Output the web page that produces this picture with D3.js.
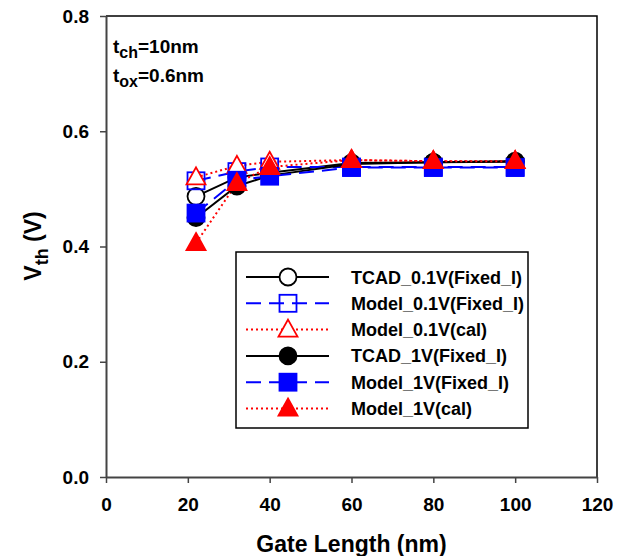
<!DOCTYPE html>
<html>
<head>
<meta charset="utf-8">
<script src="https://cdn.jsdelivr.net/npm/d3@7"></script>
<style>
  body { margin: 0; background: #fff; }
  svg { display: block; font-family: "Liberation Sans", Arial, sans-serif; }
</style>
</head>
<body>
<div id="chart"></div>
<script>
const MARGIN = { top: 16, right: 29, bottom: 79, left: 106 };

// gate length (nm)
const gateLength = [22, 32, 40, 60, 80, 100];

// threshold voltage (V) per series
const tcad01 = [0.487, 0.520, 0.528, 0.545, 0.546, 0.547];
const model01 = [0.514, 0.530, 0.538, 0.538, 0.538, 0.538];
const model01Cal = [0.520, 0.540, 0.547, 0.550, 0.548, 0.548];
const tcad1 = [0.450, 0.505, 0.523, 0.543, 0.546, 0.548];
const model1 = [0.458, 0.515, 0.522, 0.537, 0.537, 0.537];
const model1Cal = [0.406, 0.510, 0.538, 0.550, 0.548, 0.548];

const xTicks = [0, 20, 40, 60, 80, 100, 120];
const yTicks = [0, 0.2, 0.4, 0.6, 0.8];

const series = [
  { name: "TCAD_0.1V(Fixed_I)", values: tcad01, color: "#000", dash: null, shape: "circle", filled: false },
  { name: "Model_0.1V(Fixed_I)", values: model01, color: "#0000ff", dash: "15,8", shape: "square", filled: false },
  { name: "Model_0.1V(cal)", values: model01Cal, color: "#ff0000", dash: "2,3", shape: "triangle", filled: false },
  { name: "TCAD_1V(Fixed_I)", values: tcad1, color: "#000", dash: null, shape: "circle", filled: true },
  { name: "Model_1V(Fixed_I)", values: model1, color: "#0000ff", dash: "15,8", shape: "square", filled: true },
  { name: "Model_1V(cal)", values: model1Cal, color: "#ff0000", dash: "2,3", shape: "triangle", filled: true }
];

const width = 626;
const height = 556;

const svg = d3.select("#chart").append("svg")
  .attr("width", width)
  .attr("height", height);

const x = d3.scaleLinear().domain([0, 120]).range([MARGIN.left, width - MARGIN.right]);
const y = d3.scaleLinear().domain([0, 0.8]).range([height - MARGIN.bottom, MARGIN.top]);

// frame (top and right)
svg.append("path")
  .attr("d", `M${x(0)},${y(0.8)}H${x(120)}V${y(0)}`)
  .attr("fill", "none")
  .attr("stroke", "#000")
  .attr("stroke-width", 1.5);

const xAxis = svg.append("g")
  .attr("transform", `translate(0,${y(0)})`)
  .call(d3.axisBottom(x).tickValues(xTicks).tickSize(6).tickPadding(15).tickSizeOuter(0));

const yAxis = svg.append("g")
  .attr("transform", `translate(${x(0)},0)`)
  .call(d3.axisLeft(y).tickValues(yTicks).tickFormat(d3.format(".1f")).tickSize(6).tickPadding(11).tickSizeOuter(0));

[xAxis, yAxis].forEach(ax => {
  ax.select(".domain").attr("stroke", "#444").attr("stroke-width", 2);
  ax.selectAll(".tick line").attr("stroke", "#444").attr("stroke-width", 1.5);
  ax.selectAll(".tick text")
    .attr("fill", "#000")
    .style("font-size", "19px")
    .style("font-weight", "bold");
});

// axis titles
svg.append("text")
  .attr("x", (x(0) + x(120)) / 2)
  .attr("y", 552)
  .attr("text-anchor", "middle")
  .style("font-size", "23px")
  .style("font-weight", "bold")
  .text("Gate Length (nm)");

const yTitle = svg.append("text")
  .attr("transform", "translate(41,246) rotate(-90)")
  .attr("text-anchor", "middle")
  .style("font-size", "23px")
  .style("font-weight", "bold");
yTitle.append("tspan").text("V");
yTitle.append("tspan").attr("dy", 7).style("font-size", "18px").text("th");
yTitle.append("tspan").attr("dy", -7).text(" (V)");

// annotation
[["ch", "=10nm", 53], ["ox", "=0.6nm", 82]].forEach(([sub, rest, by]) => {
  const t = svg.append("text")
    .attr("x", 113)
    .attr("y", by)
    .style("font-size", "19px")
    .style("font-weight", "bold");
  t.append("tspan").text("t");
  t.append("tspan").attr("dy", 5).style("font-size", "16px").text(sub);
  t.append("tspan").attr("dy", -5).text(rest);
});

function drawMarker(g, s, cx, cy) {
  const fill = s.filled ? s.color : (s.shape === "square" ? "none" : "#fff");
  if (s.shape === "circle") {
    g.append("circle")
      .attr("cx", cx).attr("cy", cy).attr("r", 8.5)
      .attr("fill", fill).attr("stroke", s.color).attr("stroke-width", 1.8);
  } else if (s.shape === "square") {
    g.append("rect")
      .attr("x", cx - 8.5).attr("y", cy - 8.5).attr("width", 17).attr("height", 17)
      .attr("fill", fill).attr("stroke", s.color).attr("stroke-width", 1.8);
  } else {
    g.append("path")
      .attr("d", `M${cx},${cy - 10}L${cx + 9.5},${cy + 7}L${cx - 9.5},${cy + 7}Z`)
      .attr("fill", fill).attr("stroke", s.color).attr("stroke-width", 1.8);
  }
}

const line = d3.line()
  .x((d, i) => x(gateLength[i]))
  .y(d => y(d));

const plot = svg.append("g");

series.forEach(s => {
  plot.append("path")
    .datum(s.values)
    .attr("d", line)
    .attr("fill", "none")
    .attr("stroke", s.color)
    .attr("stroke-width", 2)
    .attr("stroke-dasharray", s.dash);
});

series.forEach(s => {
  const g = plot.append("g");
  s.values.forEach((v, i) => drawMarker(g, s, x(gateLength[i]), y(v)));
});

// legend
const legend = svg.append("g");
legend.append("rect")
  .attr("x", 236).attr("y", 252).attr("width", 292).attr("height", 176)
  .attr("fill", "#fff").attr("stroke", "#000").attr("stroke-width", 1.5);

series.forEach((s, i) => {
  const ly = 277 + i * 26.3;
  const g = legend.append("g");
  g.append("line")
    .attr("x1", 246).attr("x2", 329).attr("y1", ly).attr("y2", ly)
    .attr("stroke", s.color).attr("stroke-width", 2)
    .attr("stroke-dasharray", s.dash);
  drawMarker(g, s, 288, ly);
  g.append("text")
    .attr("x", 351).attr("y", ly + 6.5)
    .style("font-size", "18px")
    .style("font-weight", "bold")
    .text(s.name);
});
</script>
</body>
</html>
